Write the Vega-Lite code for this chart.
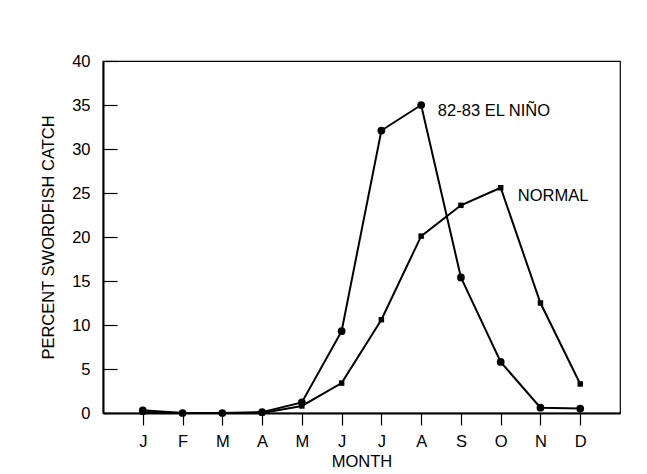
{
  "$schema": "https://vega.github.io/schema/vega-lite/v6.json",
  "width": 517,
  "height": 352,
  "autosize": "none",
  "padding": {"left": 103, "top": 61, "right": 27, "bottom": 61},
  "background": "white",
  "config": {
    "font": "Liberation Sans",
    "view": {"stroke": "black", "strokeWidth": 1.2},
    "axis": {"grid": false, "domainColor": "black", "domainWidth": 2, "tickColor": "black", "tickWidth": 1.2, "labelColor": "black", "titleColor": "black", "labelFont": "Liberation Sans", "titleFont": "Liberation Sans", "labelFontSize": 16.5, "titleFontSize": 16.5, "titleFontWeight": "normal"}
  },
  "datasets": {
    "series": [
      {"month": 1, "pct": 0.3, "series": "elnino"},
      {"month": 2, "pct": 0.0, "series": "elnino"},
      {"month": 3, "pct": 0.0, "series": "elnino"},
      {"month": 4, "pct": 0.1, "series": "elnino"},
      {"month": 5, "pct": 1.2, "series": "elnino"},
      {"month": 6, "pct": 9.3, "series": "elnino"},
      {"month": 7, "pct": 32.1, "series": "elnino"},
      {"month": 8, "pct": 35.0, "series": "elnino"},
      {"month": 9, "pct": 15.4, "series": "elnino"},
      {"month": 10, "pct": 5.8, "series": "elnino"},
      {"month": 11, "pct": 0.6, "series": "elnino"},
      {"month": 12, "pct": 0.5, "series": "elnino"},
      {"month": 1, "pct": 0.1, "series": "normal"},
      {"month": 2, "pct": 0.0, "series": "normal"},
      {"month": 3, "pct": 0.0, "series": "normal"},
      {"month": 4, "pct": 0.0, "series": "normal"},
      {"month": 5, "pct": 0.8, "series": "normal"},
      {"month": 6, "pct": 3.4, "series": "normal"},
      {"month": 7, "pct": 10.6, "series": "normal"},
      {"month": 8, "pct": 20.1, "series": "normal"},
      {"month": 9, "pct": 23.6, "series": "normal"},
      {"month": 10, "pct": 25.6, "series": "normal"},
      {"month": 11, "pct": 12.5, "series": "normal"},
      {"month": 12, "pct": 3.3, "series": "normal"}
    ],
    "labels": [
      {"month": 8.42, "pct": 34.3, "label": "82-83 EL NIÑO"},
      {"month": 10.43, "pct": 24.7, "label": "NORMAL"}
    ]
  },
  "layer": [
    {
      "data": {"name": "series"},
      "mark": {"type": "line", "color": "black", "strokeWidth": 2},
      "encoding": {
        "x": {"field": "month", "type": "quantitative", "scale": {"domain": [0, 13], "nice": false, "zero": false},
          "axis": {"values": [1,2,3,4,5,6,7,8,9,10,11,12], "labelExpr": "['J','F','M','A','M','J','J','A','S','O','N','D'][datum.value-1]", "title": "MONTH", "tickSize": 12, "labelPadding": 8, "titlePadding": 4}},
        "y": {"field": "pct", "type": "quantitative", "scale": {"domain": [0, 40], "nice": false},
          "axis": {"values": [0,5,10,15,20,25,30,35,40], "title": "PERCENT SWORDFISH CATCH", "tickSize": -14, "labelPadding": 27, "titlePadding": 15}},
        "detail": {"field": "series"}
      }
    },
    {
      "data": {"name": "series"},
      "transform": [{"filter": "datum.series == 'normal'"}],
      "mark": {"type": "point", "shape": "square", "filled": true, "color": "black", "size": 30, "opacity": 1},
      "encoding": {
        "x": {"field": "month", "type": "quantitative"},
        "y": {"field": "pct", "type": "quantitative"}
      }
    },
    {
      "data": {"name": "series"},
      "transform": [{"filter": "datum.series == 'elnino'"}],
      "mark": {"type": "point", "shape": "circle", "filled": true, "color": "black", "size": 60, "opacity": 1},
      "encoding": {
        "x": {"field": "month", "type": "quantitative"},
        "y": {"field": "pct", "type": "quantitative"}
      }
    },
    {
      "data": {"name": "labels"},
      "mark": {"type": "text", "align": "left", "baseline": "middle", "fontSize": 16.5, "color": "black", "font": "Liberation Sans"},
      "encoding": {
        "x": {"field": "month", "type": "quantitative"},
        "y": {"field": "pct", "type": "quantitative"},
        "text": {"field": "label"}
      }
    }
  ]
}
